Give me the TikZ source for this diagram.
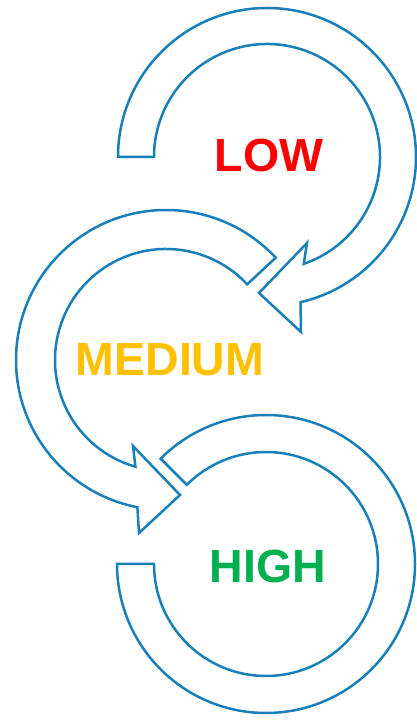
\documentclass[tikz,border=0pt]{standalone}
\usepackage{fontspec}
\setmainfont{Liberation Sans}
\usetikzlibrary{positioning}
\definecolor{ringblue}{HTML}{187FB8}
\definecolor{lowred}{HTML}{FF0000}
\definecolor{medgold}{HTML}{FFC000}
\definecolor{highgreen}{HTML}{00B050}

\begin{document}
\begin{tikzpicture}[
    x=1pt, y=1pt,
    ring/.style={draw=ringblue, line width=2.5pt, fill=white, line join=miter},
    level/.style={font=\fontsize{46.5}{46.5}\selectfont\bfseries, inner sep=0pt}
]
    \useasboundingbox (0,0) rectangle (416,720);

    % circle centres
    \coordinate (cLow) at (267,563);
    \coordinate (cMed) at (166,360);
    \coordinate (cHigh) at (266,156);

    % bottom ring (HIGH)
    \draw[ring] ([shift={(135:149pt)}]cHigh) arc[start angle=135, end angle=-180, radius=149pt]
        -- ([shift={(-180:112pt)}]cHigh) arc[start angle=-180, end angle=135, radius=112pt] -- cycle;

    % middle arrow (MEDIUM)
    \draw[ring] ([shift={(43:150pt)}]cMed) arc[start angle=43, end angle=259, radius=150pt]
        -- (139,187) -- (180,225) -- (133,274)
        -- ([shift={(254:111pt)}]cMed) arc[start angle=254, end angle=43, radius=111pt] -- cycle;

    % top arrow (LOW)
    \draw[ring] ([shift={(180:149pt)}]cLow) arc[start angle=180, end angle=-77, radius=149pt]
        -- (301,388) -- (259,427) -- (307,477)
        -- ([shift={(-71:113pt)}]cLow) arc[start angle=-71, end angle=180, radius=113pt] -- cycle;

    \node[level, text=lowred] (low) at (269,564) {LOW};
    \node[level, text=medgold] (medium) at (170,360) {MEDIUM};
    \node[level, text=highgreen] (high) at (268,154) {HIGH};
\end{tikzpicture}
\end{document}
